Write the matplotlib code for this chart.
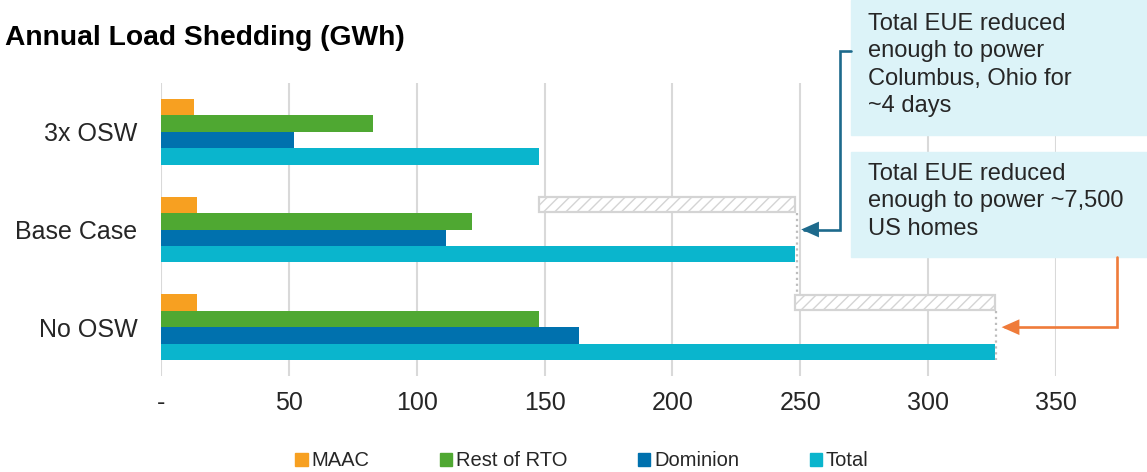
import matplotlib.pyplot as plt
from matplotlib.patches import Rectangle, FancyArrowPatch, Patch
from matplotlib.path import Path

plt.rcParams['font.family'] = ['Liberation Sans', 'DejaVu Sans']
plt.rcParams['hatch.linewidth'] = 1.0

# Data (GWh)
cases = ['3x OSW', 'Base Case', 'No OSW']
series = ['MAAC', 'Rest of RTO', 'Dominion', 'Total']
maac = [13, 14, 14]
rest_of_rto = [83, 121.5, 148]
dominion = [52, 111.5, 163.5]
total = [148, 248, 326]
xticks = [0, 50, 100, 150, 200, 250, 300, 350]
xtick_labels = ['-', '50', '100', '150', '200', '250', '300', '350']
note_columbus = 'Total EUE reduced\nenough to power\nColumbus, Ohio for\n~4 days'
note_homes = 'Total EUE reduced\nenough to power ~7,500\nUS homes'

colors = ['#f7a021', '#4fa832', '#0071ae', '#0ab5cd']
text_color = '#262626'
grid_color = '#d9d9d9'

W, H = 1147, 472
fig = plt.figure(figsize=(W / 100, H / 100), dpi=100)


# Convert pixel position (from top-left) to figure fraction
def px(x, y):
    return (x / W, 1 - y / H)


ax = fig.add_axes([161 / W, 1 - 376 / H, (1056 - 161) / W, (376 - 83) / H])

h = 0.168
values = [maac, rest_of_rto, dominion, total]
for i, (vals, c) in enumerate(zip(values, colors)):
    ys = [k + (i - 1.5) * h for k in range(len(cases))]
    ax.barh(ys, vals, height=h, color=c, zorder=3)

# Reduction bars between successive totals, in the MAAC slot
slot = -1.5 * h
for k in (1, 2):
    ax.barh(k + slot, total[k] - total[k - 1], left=total[k - 1], height=h * 0.92,
            facecolor='white', edgecolor='#d4d4d4', hatch='///', linewidth=1.6, zorder=3)

# Dotted drop lines from reduction bars
ax.plot([total[1] + 0.6, total[1] + 0.6], [1 + slot + h / 2, 2 + slot - h / 2],
        linestyle=':', color='#bdbdbd', linewidth=1.6, zorder=4)
ax.plot([total[2] + 0.6, total[2] + 0.6], [2 + slot + h / 2, 2 + 2 * h],
        linestyle=':', color='#bdbdbd', linewidth=1.6, zorder=4)

ax.set_xlim(0, 350)
ax.set_ylim(2.5, -0.5)
ax.set_yticks(range(len(cases)))
ax.set_yticklabels(cases, fontsize=18, color=text_color)
ax.set_xticks(xticks)
ax.set_xticklabels(xtick_labels, fontsize=18, color=text_color)
ax.tick_params(axis='both', length=0)
ax.tick_params(axis='y', pad=17)
ax.tick_params(axis='x', pad=11)
for s in ax.spines.values():
    s.set_visible(False)
ax.set_axisbelow(True)
ax.xaxis.grid(True, color=grid_color, linewidth=1.5, zorder=0)

fig.text(*px(5, 45), 'Annual Load Shedding (GWh)', fontsize=20.3, fontweight='bold',
         color='black', va='baseline', ha='left')

# Callout boxes
box_color = '#dcf3f8'
fig.patches.append(Rectangle(px(851, 135), (W - 851) / W, 135 / H,
                             transform=fig.transFigure, color=box_color, zorder=1))
fig.patches.append(Rectangle(px(851, 257), (W - 851) / W, (257 - 152) / H,
                             transform=fig.transFigure, color=box_color, zorder=1))
fig.text(*px(868, 13), note_columbus, fontsize=17, color=text_color,
         va='top', ha='left', linespacing=1.31)
fig.text(*px(868, 163), note_homes, fontsize=17, color=text_color,
         va='top', ha='left', linespacing=1.31)

# Elbow arrows from boxes to the bars
to_fig = fig.transFigure.inverted()
tip1 = to_fig.transform(ax.transData.transform((total[1], 1)) + [6, 0])
tip2 = to_fig.transform(ax.transData.transform((total[2], 2)) + [7, 0])

p1 = [px(851, 51), px(840, 51), (px(840, 0)[0], tip1[1]), tuple(tip1)]
p2 = [px(1117, 257), (px(1117, 0)[0], tip2[1]), tuple(tip2)]
for pts, c in ((p1, '#1d6a8c'), (p2, '#ef7b3a')):
    arrow = FancyArrowPatch(path=Path(pts), arrowstyle='-|>,head_length=0.95,head_width=0.42',
                            mutation_scale=10, color=c, linewidth=1.9,
                            transform=fig.transFigure, joinstyle='miter')
    fig.patches.append(arrow)

handles = [Patch(color=c, label=s) for c, s in zip(colors, series)]
fig.legend(handles=handles, loc='center', bbox_to_anchor=px(582, 461), ncol=4,
           frameon=False, fontsize=14.5, handlelength=0.6, handleheight=0.6,
           handletextpad=0.2, columnspacing=3.5, labelcolor=text_color,
           borderaxespad=0, borderpad=0)

fig.savefig('out.png', dpi=100)
